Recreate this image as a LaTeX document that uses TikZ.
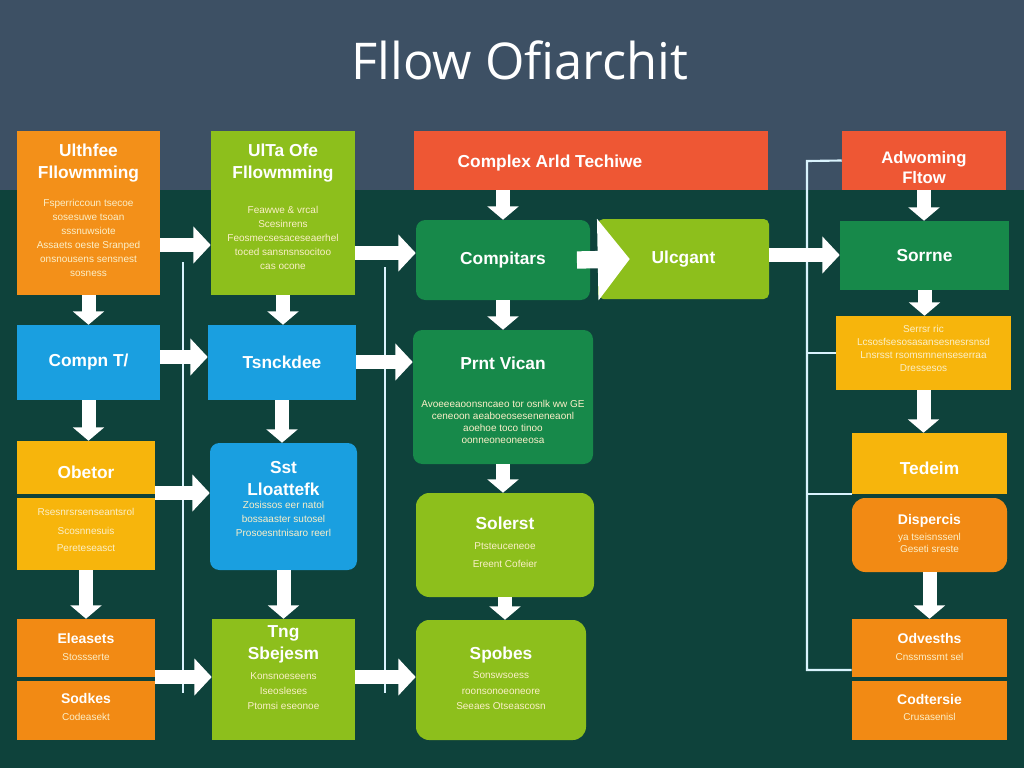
\documentclass[tikz,border=0pt]{standalone}
\usepackage{fontspec}
\setmainfont{Open Sans}
\newfontfamily\boxfont{Liberation Sans}
\usetikzlibrary{fit}
\usetikzlibrary{arrows.meta}
\definecolor{hdrband}{HTML}{3D5064}
\definecolor{bgdark}{HTML}{0E423B}
\definecolor{tangor}{HTML}{F39019}
\definecolor{limegr}{HTML}{8DBF1C}
\definecolor{skyblu}{HTML}{1A9FE0}
\definecolor{ambery}{HTML}{F7B50C}
\definecolor{deepor}{HTML}{F28A14}
\definecolor{leafgr}{HTML}{17894A}
\definecolor{brickr}{HTML}{EE5734}
\definecolor{faint}{HTML}{FBEFC8}
\newcommand{\hd}{\boxfont\bfseries\fontsize{13}{16.5}\selectfont}
\newcommand{\md}{\boxfont\bfseries\fontsize{10.5}{14}\selectfont}
\newcommand{\sm}{\boxfont\fontsize{7.5}{10.5}\selectfont}
\newcommand{\smt}{\boxfont\fontsize{7.5}{9}\selectfont}
\tikzstyle{box} = [rectangle, inner sep=0pt, draw=none]
\tikzstyle{rbox} = [box, rounded corners=7pt]
\tikzstyle{txt} = [inner sep=0pt, text=white, font=\hd, align=center]
\tikzstyle{head} = [txt, anchor=north]
\tikzstyle{midh} = [head, font=\md]
\tikzstyle{note} = [head, font=\sm, text=faint]
\tikzstyle{notet} = [note, font=\smt]
\tikzstyle{darrow} = [draw=white, line width=10.5pt, -{Triangle[width=23pt,length=10pt]}]
\tikzstyle{harrow} = [draw=white, line width=11pt, -{Triangle[width=27pt,length=13pt]}]
\tikzstyle{bigarrow} = [draw=white, line width=13pt, -{Triangle[width=60pt,length=24pt]}]
\tikzstyle{bus} = [draw=white!85!cyan, line width=1.6pt]
\newcommand{\drop}[1]{ %
  % Join each upper box to the box below it, straight down.
  \foreach \x/\y in {#1} { %
    \path (\x.south) edge [darrow] (\x.south |- \y.north) ;%
  } ;
}

\begin{document}
\begin{tikzpicture}[x=0.75pt, y=-0.75pt]
\useasboundingbox (0,0) rectangle (1024,768);
\fill[bgdark] (0,0) rectangle (1024,768);
\fill[hdrband] (0,0) rectangle (1024,190);
\node[font=\fontsize{38}{38}\selectfont, text=white] (title) at (520,60) {Fllow Ofiarchit};

% first column
\node[box, fill=tangor, fit={(17,131) (160,295)}] (ulth) {};
\node[box, fill=skyblu, fit={(17,325) (160,400)}] (comp) {};
\node[box, fill=ambery, fit={(17,441) (155,494)}] (obet) {};
\node[box, fill=ambery, fit={(17,498) (155,570)}] (obetx) {};
\node[box, fill=deepor, fit={(17,619) (155,677)}] (elea) {};
\node[box, fill=deepor, fit={(17,681) (155,740)}] (sodk) {};
\node[head] (ulthH) at ([yshift=-9.75pt]ulth.north) {Ulthfee\\Fllowmming};
\node[note] (ulthN) at ([yshift=-51pt]ulth.north) {Fsperriccoun tsecoe\\sosesuwe tsoan\\sssnuwsiote\\Assaets oeste Sranped\\onsnousens sensnest\\sosness};
\node[txt] (compH) at (comp) {Compn T/};
\node[txt] (obetH) at ([yshift=-3.4pt]obet.center) {Obetor};
\node[note] (obetxN) at ([yshift=-7.5pt]obetx.north) {Rsesnrsrsenseantsrol\\[4pt]Scosnnesuis\\[2pt]Pereteseasct};
\node[midh] (eleaH) at ([yshift=-10.5pt]elea.north) {Eleasets};
\node[note] (eleaN) at ([yshift=-26pt]elea.north) {Stossserte};
\node[midh] (sodkH) at ([yshift=-9pt]sodk.north) {Sodkes};
\node[note] (sodkN) at ([yshift=-24.5pt]sodk.north) {Codeasekt};

% second column
\node[box, fill=limegr, fit={(211,131) (355,295)}] (ulta) {};
\node[box, fill=skyblu, fit={(208,325) (356,400)}] (tsnk) {};
\node[rbox, fill=skyblu, fit={(210,443) (357,570)}] (sst) {};
\node[box, fill=limegr, fit={(212,619) (355,740)}] (tng) {};
\node[head] (ultaH) at ([yshift=-9.75pt]ulta.north) {UlTa Ofe\\Fllowmming};
\node[note] (ultaN) at ([yshift=-56.25pt]ulta.north) {Feawwe \& vrcal\\Scesinrens\\Feosmecsesaceseaerhel\\toced sansnsnsocitoo\\cas ocone};
\node[txt] (tsnkH) at (tsnk) {Tsnckdee};
\node[head] (sstH) at ([yshift=-13.5pt]sst.north) {Sst\\Lloattefk};
\node[note] (sstN) at ([yshift=-44pt]sst.north) {Zosissos eer natol\\bossaaster sutosel\\Prosoesntnisaro reerl};
\node[head] (tngH) at ([yshift=-5.25pt]tng.north) {Tng\\Sbejesm};
\node[note] (tngN) at ([yshift=-40.5pt]tng.north) {Konsnoeseens\\[0.5pt]Iseosleses\\[0.5pt]Ptomsi eseonoe};

% third column
\node[box, fill=brickr, fit={(414,131) (768,190)}] (cplx) {};
\node[rbox, fill=leafgr, fit={(416,220) (590,300)}] (compi) {};
\node[box, fill=limegr, rounded corners=4pt, fit={(598,219) (769,299)}] (ulcg) {};
\node[rbox, fill=leafgr, fit={(413,330) (593,464)}] (prnt) {};
\node[rbox, fill=limegr, rounded corners=10pt, fit={(416,493) (594,597)}] (sole) {};
\node[rbox, fill=limegr, rounded corners=10pt, fit={(416,620) (586,740)}] (spob) {};
\node[txt] (cplxH) at ([xshift=-30.75pt,yshift=-2pt]cplx.center) {Complex Arld Techiwe};
\node[txt] (compiH) at (compi) {Compitars};
\node[txt] (ulcgH) at (ulcg) {Ulcgant};
\node[head] (prntH) at ([yshift=-20.25pt]prnt.north) {Prnt Vican};
\node[notet] (prntN) at ([yshift=-52.5pt]prnt.north) {Avoeeeaoonsncaeo tor osnlk ww GE\\ceneoon aeaboeoseseneneaonl\\aoehoe toco tinoo\\oonneoneoneeosa};
\node[head] (soleH) at ([yshift=-18pt]sole.north) {Solerst};
\node[note] (soleN) at ([yshift=-37.5pt]sole.north) {Ptsteuceneoe\\[3pt]Ereent Cofeier};
\node[head] (spobH) at ([yshift=-20.25pt]spob.north) {Spobes};
\node[note] (spobN) at ([yshift=-39pt]spob.north) {Sonswsoess\\[1pt]roonsonoeoneore\\[1pt]Seeaes Otseascosn};

% fourth column
\node[box, fill=brickr, fit={(842,131) (1006,190)}] (adwo) {};
\node[box, fill=leafgr, fit={(840,221) (1009,290)}] (sorr) {};
\node[box, fill=ambery, fit={(836,316) (1011,390)}] (serr) {};
\node[box, fill=ambery, fit={(852,433) (1007,494)}] (tede) {};
\node[box, fill=deepor, rounded corners=10pt, fit={(852,498) (1007,572)}] (disp) {};
\node[box, fill=deepor, fit={(852,619) (1007,677)}] (odve) {};
\node[box, fill=deepor, fit={(852,681) (1007,740)}] (codt) {};
\node[head, font=\boxfont\bfseries\fontsize{12.5}{15}\selectfont] (adwoH) at ([yshift=-15pt]adwo.north) {Adwoming\\Fltow};
\node[txt] (sorrH) at (sorr) {Sorrne};
\node[notet] (serrN) at ([yshift=-6.75pt]serr.north) {Serrsr ric\\[0.75pt]Lcsosfsesosasansesnesrsnsd\\[0.75pt]Lnsrsst rsomsmnenseserraa\\[0.75pt]Dressesos};
\node[txt] (tedeH) at ([yshift=-3.4pt]tede.center) {Tedeim};
\node[midh] (dispH) at ([yshift=-12pt]disp.north) {Dispercis};
\node[notet] (dispN) at ([yshift=-26.25pt]disp.north) {ya tseisnssenl\\Geseti sreste};
\node[midh] (odveH) at ([yshift=-10.5pt]odve.north) {Odvesths};
\node[note] (odveN) at ([yshift=-26pt]odve.north) {Cnssmssmt sel};
\node[midh] (codtH) at ([yshift=-9.75pt]codt.north) {Codtersie};
\node[note] (codtN) at ([yshift=-24.5pt]codt.north) {Crusasenisl};

% thin bus lines
\coordinate (busa) at (183,262);
\coordinate (busb) at (183,693);
\coordinate (busc) at (385,267);
\coordinate (busd) at (385,693);
\coordinate (buse) at (807,161);
\coordinate (busf) at (807,670);
\draw[bus] (busa) -- (busb);
\draw[bus] (busc) -- (busd);
\draw[bus] (adwo.west) -- (buse) -- (busf) -- (odve.west |- busf);
\draw[bus] (buse |- serr.west) -- (serr.west);
\draw[bus] (buse |- tede.south west) -- (tede.south west);

% rows of side arrows
\coordinate (rowa) at (0,245);
\coordinate (rowb) at (0,357);
\coordinate (rowc) at (0,493);
\coordinate (rowd) at (0,677);
\coordinate (rowe) at (0,253);
\coordinate (rowf) at (0,362);
\coordinate (rowg) at (0,255);
\draw[harrow] (ulth.east |- rowa) -- (ulta.west |- rowa);
\draw[harrow] (comp.east |- rowb) -- (tsnk.west |- rowb);
\draw[harrow] (obet.east |- rowc) -- (sst.west |- rowc);
\draw[harrow] (elea.east |- rowd) -- (tng.west |- rowd);
\draw[harrow] (ulta.east |- rowe) -- (compi.west |- rowe);
\draw[harrow] (tsnk.east |- rowf) -- (prnt.west |- rowf);
\draw[harrow] (tng.east |- rowd) -- (spob.west |- rowd);
\draw[harrow] (ulcg.east |- rowg) -- (sorr.west |- rowg);
\draw[bigarrow] ([xshift=-10pt]compi.east) -- ([xshift=24pt]ulcg.west);

% downward arrows
\drop{ulth/comp, comp/obet, obetx/elea, ulta/tsnk, tsnk/sst, sst/tng, compi/prnt, prnt/sole, sole/spob, adwo/sorr, sorr/serr, serr/tede, disp/odve}
\draw[darrow] (compi.north |- cplx.south) -- (compi.north);
\end{tikzpicture}
\end{document}
